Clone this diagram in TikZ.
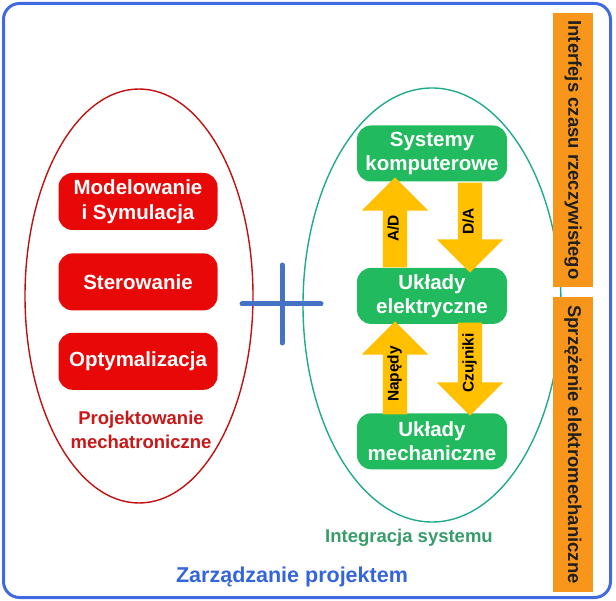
\documentclass[tikz,border=0pt]{standalone}
\usepackage{fontspec}
\setmainfont{Liberation Sans}
\usepackage{xcolor}
\usetikzlibrary{positioning,shapes.geometric,shapes.arrows}
\definecolor{framecol}{RGB}{65,105,225}
\definecolor{boxred}{RGB}{232,8,8}
\definecolor{ellred}{RGB}{192,16,16}
\definecolor{projred}{RGB}{200,24,24}
\definecolor{boxgreen}{RGB}{34,186,94}
\definecolor{ellteal}{RGB}{30,170,140}
\definecolor{integgreen}{RGB}{56,156,106}
\definecolor{arrowgold}{RGB}{255,192,0}
\definecolor{barorange}{RGB}{248,150,28}
\definecolor{plusblue}{RGB}{68,114,196}
\definecolor{mgmtblue}{RGB}{52,100,222}

\begin{document}
\begin{tikzpicture}[x=1pt,y=-1pt,
   redbox/.style={fill=boxred,rounded corners=14pt,text=white,font=\fontsize{20.5}{25}\selectfont\bfseries,
     minimum width=159pt,minimum height=57pt,align=center,inner sep=2pt},
   greenbox/.style={fill=boxgreen,rounded corners=14pt,text=white,font=\fontsize{20.5}{24}\selectfont\bfseries,
     minimum width=150pt,minimum height=56pt,align=center,inner sep=2pt},
   fatarrow/.style={single arrow,fill=arrowgold,single arrow head extend=21pt,minimum height=90pt,
     inner xsep=0pt,inner ysep=4.5pt,text height=11pt,text depth=4pt,
     font=\fontsize{15.5}{18}\selectfont\bfseries,rotate=90},
   sidebar/.style={fill=barorange,minimum height=40pt,inner sep=0pt,rotate=-90,
     text=black!88,font=\fontsize{18.5}{22}\selectfont\bfseries},
   field/.style={ellipse,line width=1.4pt,inner sep=0pt},
   caption/.style={align=center,font=\fontsize{18.5}{24}\selectfont\bfseries}]
  \useasboundingbox (0,0) rectangle (616,601);
  \draw[framecol,line width=3pt,rounded corners=16pt] (3.5,3.5) rectangle (610.5,597.5);
  % the two fields
  \node[field,draw=ellred,minimum width=228pt,minimum height=414pt] (pe) at (139,296) {};
  \node[field,draw=ellteal,minimum width=258pt,minimum height=434pt] (ie) at (432,305) {};
  % design tasks
  \node[redbox] (mod) at (138,201.5) {Modelowanie\\i Symulacja};
  \node[redbox,below=23pt of mod] (ster) {Sterowanie};
  \node[redbox,below=22pt of ster] (opt) {Optymalizacja};
  \node[caption,text=projred] (pm) at (141,430) {Projektowanie\\mechatroniczne};
  % system layers
  \node[greenbox] (sk) at (432,153.5) {Systemy\\komputerowe};
  \node[greenbox,below=86pt of sk] (ue) {Układy\\elektryczne};
  \node[greenbox,below=89pt of ue] (um) {Układy\\mechaniczne};
  \node[fatarrow] (ad) at (395,228.5) {A/D};
  \node[fatarrow,shape border rotate=180] (da) at (470,221.5) {D/A};
  \node[fatarrow,minimum height=93pt] (np) at (395,374) {Napędy};
  \node[fatarrow,shape border rotate=180,minimum height=93pt] (cz) at (470,363) {Czujniki};
  \node[caption,text=integgreen] (is) at (409,538) {Integracja systemu};
  % plus between the fields
  \draw[plusblue,line width=5pt,line cap=round] (242,304) -- (321,304) (282,265) -- (282,343);
  % side bars
  \node[sidebar,minimum width=274pt] (rt) at (573,150) {Interfejs czasu rzeczywistego};
  \node[sidebar,minimum width=295pt] (em) at (573,444.5) {Sprzężenie elektromechaniczne};
  \node[caption,text=mgmtblue,font=\fontsize{21.5}{26}\selectfont\bfseries] (zp) at (292,577) {Zarządzanie projektem};
\end{tikzpicture}
\end{document}
